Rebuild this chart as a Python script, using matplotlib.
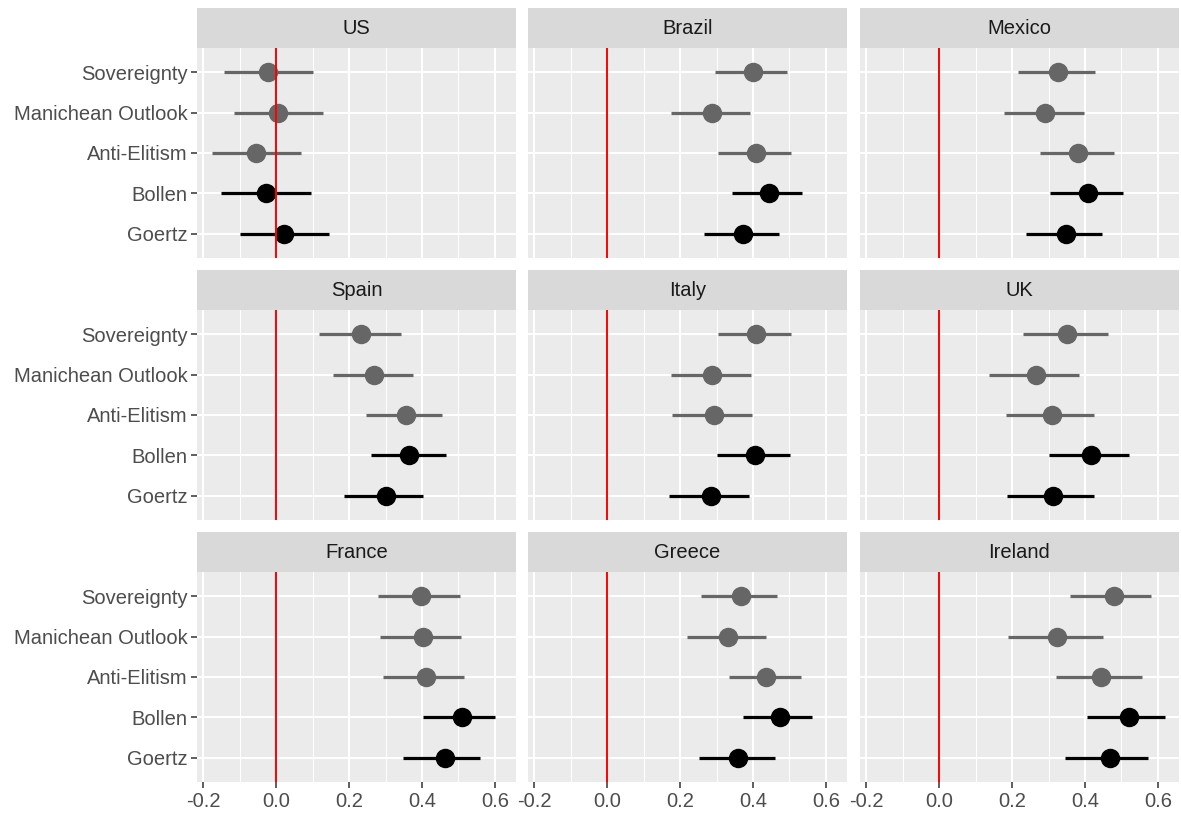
import matplotlib.pyplot as plt

plt.rcParams["font.family"] = ["Liberation Sans", "DejaVu Sans"]
plt.rcParams["axes.unicode_minus"] = False

COUNTRIES = ["US", "Brazil", "Mexico", "Spain", "Italy", "UK", "France", "Greece", "Ireland"]
MEASURES = ["Sovereignty", "Manichean Outlook", "Anti-Elitism", "Bollen", "Goertz"]
MEASURE_KIND = ["dimension", "dimension", "dimension", "index", "index"]

# rows follow COUNTRIES, columns follow MEASURES
ESTIMATE = [
    [-0.021, 0.006, -0.054, -0.027, 0.023],
    [0.401, 0.287, 0.407, 0.445, 0.374],
    [0.327, 0.291, 0.381, 0.409, 0.348],
    [0.232, 0.269, 0.356, 0.365, 0.300],
    [0.409, 0.288, 0.292, 0.406, 0.285],
    [0.352, 0.266, 0.309, 0.417, 0.311],
    [0.397, 0.402, 0.411, 0.509, 0.462],
    [0.368, 0.332, 0.436, 0.475, 0.358],
    [0.479, 0.324, 0.445, 0.520, 0.468],
]
LOWER = [
    [-0.144, -0.116, -0.177, -0.150, -0.100],
    [0.295, 0.175, 0.305, 0.343, 0.266],
    [0.217, 0.178, 0.276, 0.305, 0.237],
    [0.117, 0.155, 0.247, 0.260, 0.186],
    [0.304, 0.174, 0.178, 0.302, 0.171],
    [0.231, 0.137, 0.184, 0.302, 0.186],
    [0.280, 0.284, 0.293, 0.402, 0.349],
    [0.257, 0.219, 0.335, 0.374, 0.251],
    [0.359, 0.188, 0.321, 0.405, 0.344],
]
UPPER = [
    [0.101, 0.128, 0.068, 0.095, 0.144],
    [0.493, 0.391, 0.503, 0.534, 0.470],
    [0.428, 0.397, 0.479, 0.505, 0.448],
    [0.342, 0.375, 0.455, 0.465, 0.404],
    [0.504, 0.395, 0.398, 0.502, 0.390],
    [0.464, 0.384, 0.424, 0.522, 0.426],
    [0.503, 0.508, 0.515, 0.600, 0.558],
    [0.466, 0.435, 0.531, 0.562, 0.461],
    [0.582, 0.449, 0.555, 0.618, 0.573],
]

KIND_COLOR = {"dimension": "#666666", "index": "black"}

W, H = 1181, 814
COL_X = [197, 528, 860]
ROW_TOP = [8, 270, 532]
PANEL_W, STRIP_H, PANEL_H = 319, 40, 210

fig = plt.figure(figsize=(W / 100, H / 100), dpi=100)

lows = [v for row in LOWER for v in row]
highs = [v for row in UPPER for v in row]
span = max(highs) - min(lows)
xlim = (min(lows) - 0.05 * span, max(highs) + 0.05 * span)

ypos = [len(MEASURES) - i for i in range(len(MEASURES))]

for idx, country in enumerate(COUNTRIES):
    r, c = divmod(idx, 3)
    x0, top = COL_X[c], ROW_TOP[r]

    strip = fig.add_axes([x0 / W, 1 - (top + STRIP_H) / H, PANEL_W / W, STRIP_H / H])
    strip.set_facecolor("#D9D9D9")
    strip.set_xticks([])
    strip.set_yticks([])
    for s in strip.spines.values():
        s.set_visible(False)
    strip.text(0.5, 0.5, country, ha="center", va="center", fontsize=14.5, color="#1A1A1A",
               transform=strip.transAxes)

    ax = fig.add_axes([x0 / W, 1 - (top + STRIP_H + PANEL_H) / H, PANEL_W / W, PANEL_H / H])
    ax.set_facecolor("#EBEBEB")
    for s in ax.spines.values():
        s.set_visible(False)
    ax.set_xlim(*xlim)
    ax.set_ylim(0.4, len(MEASURES) + 0.6)
    ax.set_xticks([-0.2, 0.0, 0.2, 0.4, 0.6])
    ax.set_xticks([-0.1, 0.1, 0.3, 0.5], minor=True)
    ax.set_yticks(ypos)
    ax.set_yticklabels(MEASURES)
    ax.grid(which="major", color="white", linewidth=1.5)
    ax.grid(which="minor", axis="x", color="white", linewidth=0.75)
    ax.set_axisbelow(True)
    ax.tick_params(which="major", length=4, width=1.1, color="#333333",
                   labelcolor="#4D4D4D", labelsize=14.5, pad=3)
    ax.tick_params(which="minor", length=0)
    if c != 0:
        ax.tick_params(left=False, labelleft=False)
    if r != 2:
        ax.tick_params(bottom=False, labelbottom=False)

    for j in range(len(MEASURES)):
        color = KIND_COLOR[MEASURE_KIND[j]]
        ax.hlines(ypos[j], LOWER[idx][j], UPPER[idx][j], color=color, linewidth=2.3, zorder=3)
        ax.plot(ESTIMATE[idx][j], ypos[j], "o", color=color, markersize=13, zorder=4)
    ax.axvline(0, color="red", linewidth=1.4, zorder=5)

fig.savefig("out.png", dpi=100)
